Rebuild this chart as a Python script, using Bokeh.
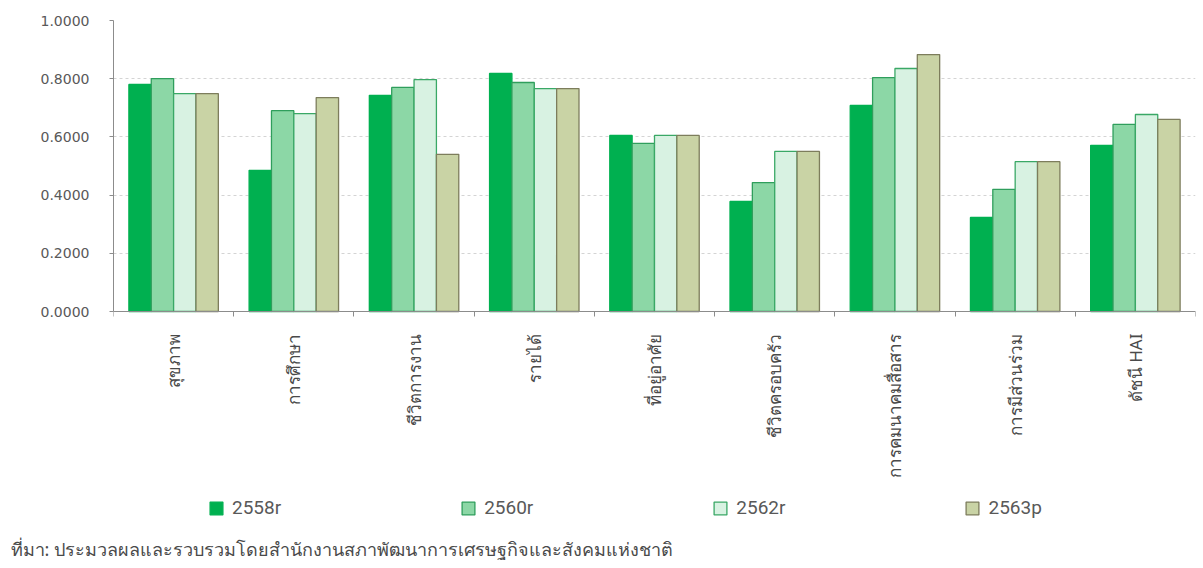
from math import pi
from bokeh.plotting import figure
from bokeh.models import (ColumnDataSource, FixedTicker, NumeralTickFormatter,
                          Legend, LegendItem, Title, Range1d)
from bokeh.embed import file_html
from bokeh.resources import INLINE

categories = ["สุขภาพ", "การศึกษา", "ชีวิตการงาน", "รายได้", "ที่อยู่อาศัย",
              "ชีวิตครอบครัว", "การคมนาคมสื่อสาร", "การมีส่วนร่วม", "ดัชนี HAI"]
series_names = ["2558r", "2560r", "2562r", "2563p"]
v2558 = [0.780, 0.485, 0.743, 0.818, 0.605, 0.378, 0.708, 0.323, 0.571]
v2560 = [0.800, 0.690, 0.770, 0.787, 0.578, 0.443, 0.804, 0.420, 0.643]
v2562 = [0.749, 0.680, 0.797, 0.766, 0.605, 0.550, 0.835, 0.515, 0.677]
v2563 = [0.749, 0.735, 0.540, 0.766, 0.605, 0.550, 0.883, 0.515, 0.660]
y_ticks = [0.0, 0.2, 0.4, 0.6, 0.8, 1.0]
source_note = "ที่มา: ประมวลผลและรวบรวมโดยสำนักงานสภาพัฒนาการเศรษฐกิจและสังคมแห่งชาติ"

fills = ["#00b050", "#8cd7a6", "#d8f2e2", "#c9d3a5"]
lines = ["#00b050", "#2f9e5c", "#3aa866", "#7d7d5c"]
values = [v2558, v2560, v2562, v2563]

n = len(categories)
PX_PER_UNIT = 291          # pixels for y = 0 .. 1
FH = 514                   # frame height; extends below the zero line for labels/legend
p = figure(frame_width=1082, frame_height=FH, output_backend="svg", toolbar_location=None,
           x_range=Range1d(0, n), y_range=Range1d(1.0 - FH / PX_PER_UNIT, 1.0),
           min_border_left=113, min_border_right=8, min_border_top=20,
           min_border_bottom=0)
p.outline_line_color = None
p.background_fill_color = "white"
p.border_fill_color = "white"

bw = 0.186
offsets = [-1.5 * bw, -0.5 * bw, 0.5 * bw, 1.5 * bw]
renderers = []
for name, vals, off, fc, lc in zip(series_names, values, offsets, fills, lines):
    src = ColumnDataSource(dict(x=[i + 0.5 + off for i in range(n)], top=vals))
    r = p.vbar(x="x", top="top", width=bw, source=src, fill_color=fc,
               line_color=lc, line_width=1.3)
    renderers.append(r)

# y axis
p.yaxis.ticker = FixedTicker(ticks=y_ticks)
p.yaxis.bounds = (0, 1)
p.yaxis.formatter = NumeralTickFormatter(format="0.0000")
p.yaxis.axis_line_color = "#8c8c8c"
p.yaxis.major_tick_line_color = "#8c8c8c"
p.yaxis.major_tick_out = 4
p.yaxis.major_tick_in = 0
p.yaxis.minor_tick_line_color = None
p.yaxis.major_label_standoff = 20
p.yaxis.major_label_text_font = "DejaVu Sans"
p.yaxis.major_label_text_font_size = "14px"
p.yaxis.major_label_text_color = "#595959"

# x axis drawn at y = 0
centers = [i + 0.5 for i in range(n)]
p.xaxis.fixed_location = 0
p.xaxis.ticker = FixedTicker(ticks=centers, minor_ticks=list(range(n + 1)))
p.xaxis.major_label_overrides = {c: cat for c, cat in zip(centers, categories)}
p.xaxis.major_label_orientation = pi / 2
p.xaxis.major_tick_line_color = None
p.xaxis.minor_tick_line_color = "#8c8c8c"
p.xaxis.minor_tick_out = 5
p.xaxis.minor_tick_in = 0
p.xaxis.axis_line_color = "#8c8c8c"
p.xaxis.major_label_standoff = 16
p.xaxis.major_label_text_font = "Noto Sans"
p.xaxis.major_label_text_font_size = "17px"
p.xaxis.major_label_text_color = "#4a4a4a"

p.xgrid.grid_line_color = None
p.ygrid.ticker = FixedTicker(ticks=y_ticks)
p.ygrid.grid_line_color = "#d4d4d4"
p.ygrid.grid_line_dash = "3 3"

legend = Legend(items=[LegendItem(label=nm, renderers=[r]) for nm, r in zip(series_names, renderers)],
                orientation="horizontal", location=(95, FH - 499),
                padding=0, margin=0, spacing=179, glyph_width=16, glyph_height=16,
                label_standoff=8, border_line_color=None, background_fill_alpha=0,
                label_text_font="Roboto", label_text_font_size="19px",
                label_text_color="#595959")
p.add_layout(legend, "center")

note = Title(text=source_note, align="left", offset=-103, standoff=0,
             text_font="Noto Sans", text_font_size="18px", text_font_style="normal",
             text_color="#4a4a4a")
p.add_layout(note, "below")

open("out.html", "w").write(file_html(p, INLINE))
